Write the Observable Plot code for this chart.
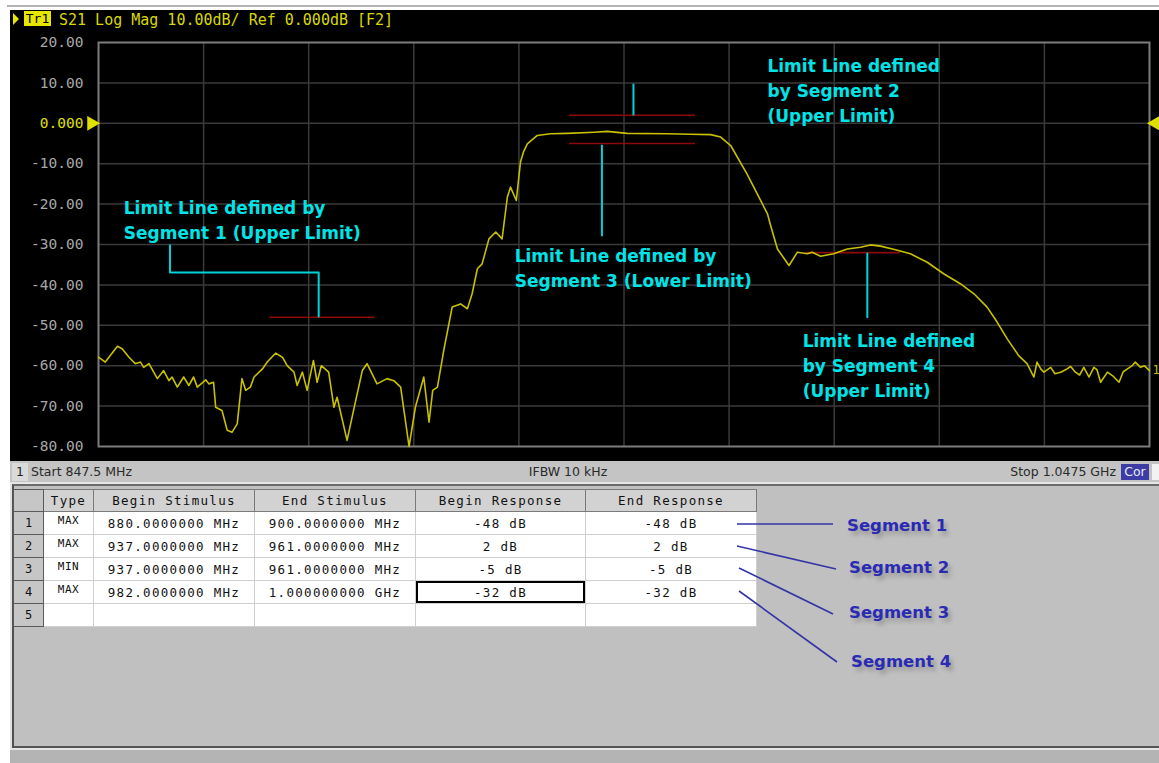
<!DOCTYPE html>
<html><head><meta charset="utf-8">
<script src="https://cdn.jsdelivr.net/npm/d3@7"></script>
<script src="https://cdn.jsdelivr.net/npm/@observablehq/plot@0.6"></script>
<style>
html,body{margin:0;padding:0;}
body{background:#fff;width:1159px;height:763px;overflow:hidden;position:relative;font-family:"DejaVu Sans",sans-serif;}
.abs{position:absolute;}
#plot svg{display:block;}
.mono{font-family:"DejaVu Sans Mono",monospace;}
table.seg{position:absolute;left:13px;top:489px;border-collapse:collapse;table-layout:fixed;width:743px;
  font-family:"DejaVu Sans Mono",monospace;font-size:12.5px;letter-spacing:1.3px;color:#111;background:#fff;border:1px solid #3a3a3a;}
table.seg th{height:21px;padding:0;background:#d2d2d2;font-weight:normal;border:1px solid #7a7a7a;text-align:center;}
table.seg td{height:22px;padding:0;border:1px solid #cfcfcf;text-align:center;white-space:nowrap;overflow:hidden;}
table.seg td.num,table.seg th.num{background:#c6c6c6;border:1px solid #5a5a5a;font-size:12px;letter-spacing:0;}
table.seg td.type{font-size:11px;letter-spacing:0.5px;vertical-align:top;padding-top:2px;height:20px;}
table.seg td.sel{box-shadow:inset 0 0 0 2px #000;}
.seglab{position:absolute;font-weight:bold;font-size:16.5px;color:#2a2ab4;line-height:20px;text-shadow:3px 4px 4px rgba(0,0,0,0.22);}
</style></head><body>
<script>
// ---------------- DATA ----------------
const startMHz = 847.5;
const stopMHz = 1047.5;
const yTicks = [20, 10, 0, -10, -20, -30, -40, -50, -60, -70, -80];
const xGridMHz = [867.5, 887.5, 907.5, 927.5, 947.5, 967.5, 987.5, 1007.5, 1027.5];

// S21 trace (MHz, dB)
const freqMHz = [847.5,848.8,851.1,852.0,853.3,854.5,855.5,856.1,857.1,858.7,859.9,860.9,861.5,862.5,863.7,864.7,865.6,866.3,867.9,868.5,869.4,869.8,871.0,872.0,872.9,873.9,874.8,875.5,876.4,877.1,878.7,879.6,881.2,882.5,883.4,884.7,885.3,886.3,887.2,888.4,889.1,889.9,891.3,892.3,892.9,894.8,896.1,897.7,898.6,900.5,902.4,903.7,905.0,906.6,907.8,909.4,910.4,911.1,912.0,913.2,914.8,916.4,917.7,918.6,919.6,920.5,921.8,923.1,924.3,925.3,925.9,927.0,927.8,928.4,929.1,931.0,933.5,936.7,941.8,944.3,948.1,955.7,960.0,964.0,965.9,967.8,970.9,974.8,975.4,976.7,978.9,980.5,982.4,983.3,984.9,987.4,990.0,992.5,994.4,996.3,998.8,1002.0,1005.2,1008.4,1011.5,1014.1,1016.6,1018.5,1020.4,1022.6,1024.2,1025.5,1026.1,1026.8,1027.4,1028.7,1029.5,1030.6,1031.8,1032.5,1033.4,1034.2,1035.0,1036.0,1036.9,1037.5,1038.2,1039.5,1040.5,1041.7,1042.5,1043.3,1044.2,1044.8,1045.8,1046.5,1047.5];
const s21dB = [-57.9,-59.1,-55.2,-55.8,-57.9,-59.5,-59.1,-60.4,-59.5,-63.2,-61.2,-63.7,-62.8,-65.3,-62.8,-64.9,-62.8,-65.3,-63.5,-64.5,-64.1,-70.3,-71.1,-76.0,-76.5,-74.4,-63.2,-66.1,-65.3,-62.8,-60.8,-59.1,-56.9,-57.9,-60.0,-61.6,-64.9,-61.6,-66.1,-58.7,-64.1,-60.0,-61.6,-70.3,-67.8,-78.5,-70.7,-61.2,-59.5,-64.5,-63.2,-63.7,-65.3,-80.0,-70.3,-62.8,-74.0,-66.1,-65.3,-56.2,-45.5,-44.7,-45.9,-42.2,-36.0,-34.8,-28.6,-26.9,-28.6,-18.3,-15.8,-19.1,-9.6,-7.0,-5.1,-3.0,-2.6,-2.5,-2.2,-2.0,-2.5,-2.6,-2.7,-2.8,-3.4,-5.5,-12.5,-22.4,-25.3,-31.1,-35.2,-31.9,-32.3,-31.9,-32.9,-32.3,-31.1,-30.7,-30.1,-30.4,-31.2,-32.3,-34.4,-37.3,-39.7,-42.2,-45.5,-49.2,-53.3,-57.5,-59.5,-62.8,-59.1,-60.8,-61.6,-60.4,-62.0,-61.6,-60.8,-60.2,-61.6,-62.3,-60.4,-62.8,-60.4,-61.0,-64.1,-61.6,-62.5,-64.1,-61.5,-60.8,-60.0,-59.1,-60.4,-60.0,-61.2];

// Limit line segments (table)
const segNumber = [1, 2, 3, 4];
const segType = ["MAX", "MAX", "MIN", "MAX"];
const segBeginStim = [880, 937, 937, 982];     // MHz
const segEndStim = [900, 961, 961, 1000];      // MHz
const segBeginResp = [-48, 2, -5, -32];        // dB
const segEndResp = [-48, 2, -5, -32];          // dB

// Callout annotations (data coordinates)
const calloutText = [
  "Limit Line defined by\nSegment 1 (Upper Limit)",
  "Limit Line defined\nby Segment 2\n(Upper Limit)",
  "Limit Line defined by\nSegment 3 (Lower Limit)",
  "Limit Line defined\nby Segment 4\n(Upper Limit)"
];
const calloutX = [852.3, 974.8, 926.7, 981.5];
const calloutY = [-23.5, 8.6, -35.4, -59.6];
const leaderId = [1, 1, 1, 1, 2, 2, 3, 3, 4, 4];
const leaderX = [861.1, 861.1, 889.4, 889.4, 949.3, 949.3, 943.3, 943.3, 993.8, 993.8];
const leaderY = [-30.2, -36.9, -36.9, -47.8, 9.6, 2.2, -5.5, -27.8, -32.2, -48.0];

// Texts
const headerTrace = "Tr1";
const headerText = "S21 Log Mag 10.00dB/ Ref 0.000dB [F2]";
const statusStart = "Start 847.5 MHz";
const statusIFBW = "IFBW 10 kHz";
const statusStop = "Stop 1.0475 GHz";
const tableHeaders = ["", "Type", "Begin Stimulus", "End Stimulus", "Begin Response", "End Response"];
const segLabels = ["Segment 1", "Segment 2", "Segment 3", "Segment 4"];
</script>

<div class="abs" style="left:7px;top:5px;width:1152px;height:2px;background:#b4b4b4"></div>
<div class="abs" style="left:10px;top:10px;width:1149px;height:451px;background:#000"></div>
<div id="plot" class="abs" style="left:0;top:0"></div>

<!-- header -->
<div class="abs" style="left:13px;top:13px;width:0;height:0;border-top:6px solid transparent;border-bottom:6px solid transparent;border-left:6px solid #e6e600"></div>
<div class="abs mono" id="trbox" style="left:24px;top:11px;width:27px;height:15px;background:#e6e600;color:#000;font-size:13px;line-height:15px;text-align:center"></div>
<div class="abs mono" id="hdr" style="left:59px;top:11px;color:#d8d800;font-size:15px;line-height:18px;white-space:pre"></div>

<!-- status bar -->
<div class="abs" style="left:10px;top:461px;width:1149px;height:21px;background:#c4c4c4"></div>
<div class="abs" style="left:12px;top:463px;width:16px;height:18px;background:#dadada;font-size:12.5px;line-height:18px;text-align:center;color:#222">1</div>
<div class="abs" id="stStart" style="left:31px;top:463px;font-size:12.5px;line-height:18px;color:#2a2a2a;white-space:pre"></div>
<div class="abs" id="stIfbw" style="left:468px;width:200px;top:463px;font-size:12.5px;line-height:18px;color:#2a2a2a;text-align:center;white-space:pre"></div>
<div class="abs" id="stStop" style="left:900px;width:216px;top:463px;font-size:12.5px;line-height:18px;color:#2a2a2a;text-align:right;white-space:pre"></div>
<div class="abs" style="left:1121px;top:464px;width:28px;height:16px;background:#3c3ca4;color:#e8e8ff;font-size:12.5px;line-height:16px;text-align:center">Cor</div>
<div class="abs" style="left:1152px;top:464px;width:7px;height:16px;background:#f2f2f2;overflow:hidden"></div>
<div class="abs" style="left:10px;top:482px;width:1149px;height:2px;background:#e6e6e6"></div>

<!-- lower frame -->
<div class="abs" style="left:10px;top:484px;width:2px;height:266px;background:#e2e2e2"></div>
<div class="abs" style="left:12px;top:484px;width:1145px;height:260px;background:#c0c0c0;border-top:2px solid #6a6a6a;border-left:2px solid #505050;border-bottom:2px solid #555"></div>
<div class="abs" style="left:10px;top:748px;width:1149px;height:2px;background:#e4e4e4"></div>
<div class="abs" style="left:10px;top:750px;width:1149px;height:13px;background:#b4b4b4"></div>

<div id="tableHost"></div>
<svg class="abs" id="connectors" style="left:0;top:0;pointer-events:none" width="1159" height="763"></svg>
<div id="segLabHost"></div>

<script>
// ---------------- CHART ----------------
const yellow = "#e0e000";
const traceColor = "#c8c000";
const fmtTick = v => v === 0 ? "0.000" : v.toFixed(2);
const trace = freqMHz.map((f, i) => ({f, db: s21dB[i]}));
const segIdx = segNumber.map((d, i) => i);
const leaders = leaderId.map((id, i) => ({id, x: leaderX[i], y: leaderY[i]}));
const callouts = calloutText.map((t, i) => ({t, x: calloutX[i], y: calloutY[i]}));

const chart = Plot.plot({
  width: 1159,
  height: 461,
  marginLeft: 98,
  marginRight: 10,
  marginTop: 42,
  marginBottom: 15,
  x: {domain: [startMHz, stopMHz], axis: null},
  y: {domain: [-80, 20], axis: null},
  style: {background: "transparent", overflow: "visible"},
  marks: [
    Plot.ruleX(xGridMHz, {stroke: "#3a3a3a", strokeWidth: 1.5}),
    Plot.ruleY(yTicks.slice(1, -1), {stroke: "#3a3a3a", strokeWidth: 1.5}),
    Plot.frame({stroke: "#7c7c7c", strokeWidth: 2}),
    Plot.text(yTicks.filter(v => v !== 0), {y: d => d, frameAnchor: "left", textAnchor: "end", dx: -15,
      text: fmtTick, fill: "#a8a8a8", fontFamily: "DejaVu Sans Mono", fontSize: 14.5}),
    Plot.text([0], {y: d => d, frameAnchor: "left", textAnchor: "end", dx: -15,
      text: fmtTick, fill: yellow, fontFamily: "DejaVu Sans Mono", fontSize: 14.5}),
    Plot.dot([0], {x: () => startMHz, y: d => d, dx: -7, symbol: "triangle", rotate: 90, r: 5.5, fill: yellow, stroke: "none"}),
    Plot.dot([0], {x: () => stopMHz, y: d => d, dx: 6, symbol: "triangle", rotate: -90, r: 5.5, fill: yellow, stroke: "none"}),
    Plot.link(segIdx, {x1: i => segBeginStim[i], x2: i => segEndStim[i], y1: i => segBeginResp[i], y2: i => segEndResp[i],
      stroke: "#8c0a0a", strokeWidth: 1.6}),
    Plot.line(trace, {x: "f", y: "db", stroke: traceColor, strokeWidth: 1.6, curve: "linear"}),
    Plot.text([trace[trace.length - 1]], {x: "f", y: "db", text: () => "1", dx: 3, textAnchor: "start",
      fill: traceColor, fontFamily: "DejaVu Sans Mono", fontSize: 12}),
    Plot.line(leaders, {x: "x", y: "y", z: "id", stroke: "#00d2dc", strokeWidth: 2}),
    Plot.text(callouts, {x: "x", y: "y", text: "t", textAnchor: "start", lineAnchor: "middle", lineHeight: 1.47,
      fill: "#00e4e8", fontFamily: "DejaVu Sans", fontWeight: "bold", fontSize: 17})
  ]
});
document.getElementById("plot").appendChild(chart);

// ---------------- HEADER / STATUS ----------------
document.getElementById("trbox").textContent = headerTrace;
document.getElementById("hdr").textContent = headerText;
document.getElementById("stStart").textContent = statusStart;
document.getElementById("stIfbw").textContent = statusIFBW;
document.getElementById("stStop").textContent = statusStop;

// ---------------- TABLE ----------------
const fmtStim = v => v < 1000 ? v.toFixed(7) + " MHz" : (v / 1000).toFixed(9) + " GHz";
const fmtResp = v => v + " dB";
const colW = [30, 50, 161, 161, 170, 171];
let html = '<table class="seg"><colgroup>' + colW.map(w => `<col style="width:${w}px">`).join("") + '</colgroup>';
html += '<tr>' + tableHeaders.map((h, i) => `<th${i === 0 ? ' class="num"' : ''}>${h}</th>`).join("") + '</tr>';
segIdx.forEach(i => {
  html += `<tr><td class="num">${segNumber[i]}</td><td class="type">${segType[i]}</td>` +
    `<td>${fmtStim(segBeginStim[i])}</td><td>${fmtStim(segEndStim[i])}</td>` +
    `<td${i === 3 ? ' class="sel"' : ''}>${fmtResp(segBeginResp[i])}</td><td>${fmtResp(segEndResp[i])}</td></tr>`;
});
html += `<tr><td class="num">${segNumber.length + 1}</td><td></td><td></td><td></td><td></td><td></td></tr>`;
html += '</table>';
document.getElementById("tableHost").innerHTML = html;

// ---------------- SEGMENT LABELS ----------------
const labX = [847, 849, 849, 851];
const labY = [526, 568, 613, 662];
const fromX = [737, 737, 739, 739];
const fromY = [524, 546, 568, 591];
const toX = [833, 836, 833, 837];
const toY = [524, 569, 614, 662];
const svg = d3.select("#connectors");
segIdx.forEach(i => {
  svg.append("line").attr("x1", fromX[i]).attr("y1", fromY[i]).attr("x2", toX[i]).attr("y2", toY[i])
    .attr("stroke", "#3434a8").attr("stroke-width", 1.6);
});
const host = document.getElementById("segLabHost");
segIdx.forEach(i => {
  const d = document.createElement("div");
  d.className = "seglab";
  d.style.left = labX[i] + "px";
  d.style.top = (labY[i] - 10) + "px";
  d.textContent = segLabels[i];
  host.appendChild(d);
});
</script>
</body></html>
